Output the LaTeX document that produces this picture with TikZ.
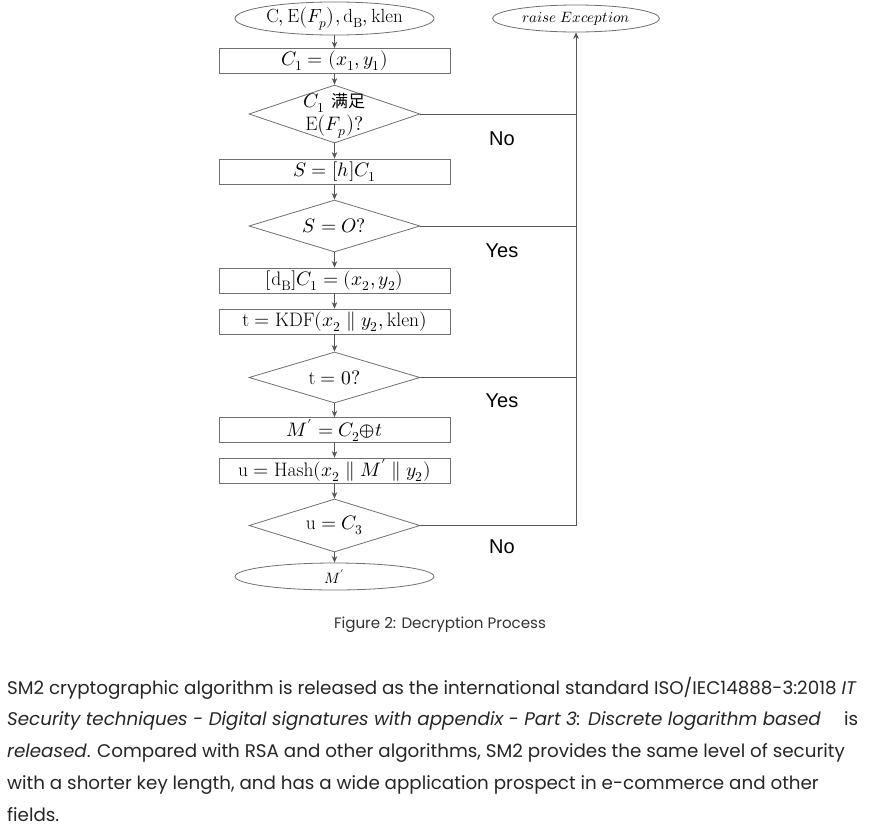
\documentclass[tikz,border=0pt]{standalone}
\usepackage{fontspec}
\usepackage{unicode-math}
\setmainfont{Latin Modern Roman}
\setmathfont{Latin Modern Math}
\newfontfamily\cjk{Noto Sans CJK SC}
\newfontfamily\bodyfont{Poppins}
\newfontfamily\labfont{Liberation Sans}
\usetikzlibrary{shapes.geometric,arrows.meta}
\definecolor{ln}{HTML}{555555}
\definecolor{bd}{HTML}{707070}
\begin{document}
\begin{tikzpicture}[x=1pt,y=-1pt,
  term/.style={ellipse,draw=bd,line width=0.8pt,minimum width=199pt,minimum height=27pt,inner sep=0pt},
  procbox/.style={rectangle,draw=bd,line width=0.8pt,minimum width=231pt,minimum height=25pt,inner sep=0pt,font=\fontsize{19.5}{21}\selectfont},
  decide/.style={diamond,draw=bd,line width=0.8pt,minimum width=171pt,minimum height=54pt,inner sep=0pt},
  dtext/.style={inner sep=0pt,font=\fontsize{19.5}{21}\selectfont},
  arr/.style={draw=ln,line width=0.8pt,-{Stealth[length=6.5pt,width=5.5pt]}},
  ln/.style={draw=ln,line width=0.8pt},
  lab/.style={font=\labfont\fontsize{20}{22}\selectfont,text=black},
  para/.style={anchor=base west,inner sep=0pt,font=\bodyfont\fontsize{18.3}{20}\selectfont,text=black!85}
]
\useasboundingbox (0,0) rectangle (870,836);
\fill[white] (0,0) rectangle (870,836);

\node[term,font=\fontsize{19}{21}\selectfont] (start) at (334.5,18.5) {$\mathrm{C},\mathrm{E}\bigl(F_p\bigr),\mathrm{d_B},\mathrm{klen}$};
\node[term,minimum width=167pt,font=\fontsize{15}{17}\selectfont] (exc) at (576,18.5) {$raise\;Exception$};
\node[procbox] (b1) at (334.5,61) {$C_1=(x_1,y_1)$};
\node[decide,minimum height=58pt] (d1) at (334.5,114) {};
\node[dtext] (t1) at (334.5,103) {$C_1$ {\cjk\fontsize{17}{19}\selectfont 满足}};
\node[dtext] (t1b) at (334.5,126) {$\mathrm{E}\bigl(F_p\bigr)?$};
\node[procbox] (b2) at (334.5,171.5) {$S=[h]C_1$};
\node[decide,minimum height=52pt] (d2) at (334.5,226) {};
\node[dtext] (t2) at (d2) {$S=O?$};
\node[procbox] (b3) at (334.5,280.5) {$[\mathrm{d_B}]C_1=(x_2,y_2)$};
\node[procbox] (b4) at (334.5,321.5) {$\mathrm{t}=\mathrm{KDF}(x_2\parallel y_2,\mathrm{klen})$};
\node[decide,minimum height=51pt] (d3) at (334.5,377.5) {};
\node[dtext] (t3) at (d3) {$\mathrm{t}=0?$};
\node[procbox] (b5) at (334.5,430) {$M^{\prime}=C_2{\oplus}t$};
\node[procbox] (b6) at (334.5,470.5) {$\mathrm{u}=\mathrm{Hash}(x_2\parallel M'\parallel y_2)$};
\node[decide,minimum height=53pt] (d4) at (334.5,525.5) {};
\node[dtext] (t4) at (d4) {$\mathrm{u}=C_3$};
\node[term,font=\fontsize{15}{17}\selectfont] (end) at (334.5,576.5) {$M'$};

\draw[arr] (start) -- (b1);
\draw[arr] (b1) -- (d1);
\draw[arr] (d1) -- (b2);
\draw[arr] (b2) -- (d2);
\draw[arr] (d2) -- (b3);
\draw[arr] (b3) -- (b4);
\draw[arr] (b4) -- (d3);
\draw[arr] (d3) -- (b5);
\draw[arr] (b5) -- (b6);
\draw[arr] (b6) -- (d4);
\draw[arr] (d4) -- (end);

\draw[arr] (d4.east) -| (exc.south);
\draw[ln] (d1.east) -- (d1.east -| exc.south);
\draw[ln] (d2.east) -- (d2.east -| exc.south);
\draw[ln] (d3.east) -- (d3.east -| exc.south);

\node[lab] (l1) at (502,139) {No};
\node[lab] (l2) at (502,251) {Yes};
\node[lab] (l3) at (502,401) {Yes};
\node[lab] (l4) at (502,547) {No};

\node[font=\bodyfont\fontsize{15.1}{17}\selectfont,text=black!80] (cap) at (440,625) {Figure 2: Decryption Process};

\node[para] (p1) at (7,694) {SM2 cryptographic algorithm is released as the international standard ISO/IEC14888-3:2018 \textit{IT}};
\node[para] (p2) at (7,725.5) {\textit{Security techniques - Digital signatures with appendix - Part 3: Discrete logarithm based}\quad\ is};
\node[para] (p3) at (7,757) {\textit{released}. Compared with RSA and other algorithms, SM2 provides the same level of security};
\node[para] (p4) at (7,789) {with a shorter key length, and has a wide application prospect in e-commerce and other};
\node[para] (p5) at (7,821) {fields.};
\end{tikzpicture}
\end{document}
